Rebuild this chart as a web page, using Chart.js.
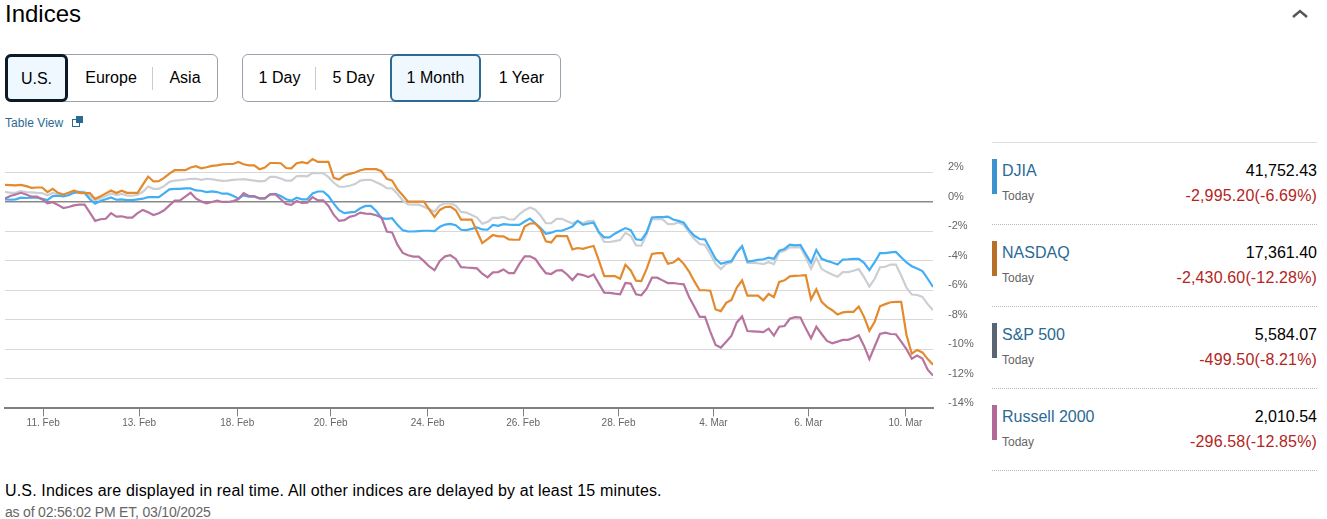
<!DOCTYPE html>
<html lang="en">
<head>
<meta charset="UTF-8">
<title>Indices</title>
<script src="https://cdn.jsdelivr.net/npm/chart.js"></script>
<style>
  html, body { margin: 0; padding: 0; background: #fff; }
  body { width: 1327px; height: 519px; position: relative; overflow: hidden; font-family: "Liberation Sans", Arial, sans-serif; color: #000; }
  .abs { position: absolute; white-space: nowrap; }
  .title { left: 5px; top: 0; font-size: 24px; line-height: 28px; }
  .group { position: absolute; top: 54px; height: 46px; border: 1px solid #9aa3ad; border-radius: 6px; }
  .btn { position: absolute; top: 54px; height: 48px; line-height: 48px; font-size: 16px; text-align: center; box-sizing: border-box; }
  .btn.on { background: #eff8ff; border-radius: 6px; line-height: 44px; }
  .sep { position: absolute; top: 67px; height: 23px; width: 1px; background: #c8ccd0; }
  .link { left: 5px; top: 116px; font-size: 12px; line-height: 15px; color: #2a6a94; letter-spacing: .05px; }
  #chartBox { position: absolute; left: 0; top: 121px; width: 985px; height: 309px; }
  .rule { position: absolute; left: 992px; width: 325px; height: 0; border-top: 1px dotted #b5bac0; }
  .bar { position: absolute; left: 992px; width: 5px; height: 35px; }
  .name { left: 1002px; font-size: 16px; line-height: 20px; color: #2a6a94; }
  .today { left: 1002px; font-size: 12px; line-height: 15px; color: #666; }
  .val { right: 10px; font-size: 16px; line-height: 20px; }
  .chg { right: 10px; font-size: 16px; line-height: 20px; color: #b3261e; letter-spacing: .15px; }
</style>
</head>
<body>
<div class="abs title">Indices</div>
<svg class="abs" style="left:1291px;top:8px" width="18" height="11" viewBox="0 0 18 11"><path d="M2 9 L9 3 L16 9" fill="none" stroke="#555" stroke-width="2.4"/></svg>

<div class="group" style="left:5px;width:211px"></div>
<div class="btn on" style="left:5px;width:63px;border:3px solid #0b1a26">U.S.</div>
<div class="btn" style="left:69px;width:84px">Europe</div>
<div class="sep" style="left:152px"></div>
<div class="btn" style="left:153px;width:64px">Asia</div>

<div class="group" style="left:242px;width:317px"></div>
<div class="btn" style="left:243px;width:73px">1 Day</div>
<div class="sep" style="left:315px"></div>
<div class="btn" style="left:316px;width:75px">5 Day</div>
<div class="btn on" style="left:390px;width:91px;border:2px solid #2a6a94;line-height:44px">1 Month</div>
<div class="btn" style="left:481px;width:81px">1 Year</div>

<div class="abs link">Table View</div>
<svg class="abs" style="left:72px;top:116px" width="12" height="11" viewBox="0 0 12 11"><rect x="0.5" y="3.5" width="7" height="7" fill="#fff" stroke="#2a6a94"/><rect x="4" y="0" width="7" height="7" fill="#2a6a94"/></svg>

<div id="chartBox"><canvas id="indexChart"></canvas></div>

<div class="rule" style="top:142px;border-top:1px solid #ddd"></div>
<div id="panel"></div>

<div class="abs" style="left:5px;top:481px;font-size:16px;line-height:20px;letter-spacing:.155px">U.S. Indices are displayed in real time. All other indices are delayed by at least 15 minutes.</div>
<div class="abs" style="left:5px;top:504px;font-size:14px;line-height:16px;color:#666;letter-spacing:-.19px">as of 02:56:02 PM ET, 03/10/2025</div>

<script>
// percent change, one reading every 5.3px or so along the x axis
const djia = [
  .16,.13,.16,.27,.25,.27,.27,.20,.11,.38,.40,.36,.43,.60,.65,.60,.16,-.13,.04,.16,.29,.13,.16,.11,.11,.16,.20,.31,.31,.31,
  .56,.83,.87,.87,.90,.90,.76,.74,.65,.69,.65,.54,.54,.40,.22,.43,.34,.34,.22,.22,.49,.52,.38,.16,.07,.27,.16,.16,.56,.69,.69,
  .38,-.13,-.58,-.78,-.72,-.69,-.45,-.29,-.29,-.63,-1.12,-1.16,-1.12,-1.57,-1.93,-2.02,-2.02,-1.99,-1.97,-1.97,-1.99,-1.70,-1.55,-1.50,-1.59,-1.90,-1.93,-1.84,-1.75,-1.88,
  -1.90,-1.57,-1.64,-1.52,-1.55,-1.57,-1.57,-1.34,-1.14,-1.46,-1.79,-2.17,-2.10,-1.97,-1.97,-1.84,-1.68,-1.30,-1.57,-1.48,-1.43,-2.08,-2.42,-2.42,-2.17,-1.97,-1.79,-1.93,-2.55,
  -2.60,-2.08,-1.07,-1.05,-1.05,-1.01,-1.21,-1.30,-1.43,-1.93,-2.31,-2.53,-2.55,-3.20,-3.87,-4.21,-4.10,-4.03,-3.43,-3.02,-4.05,-4.01,-3.94,-3.90,-3.79,-3.87,-3.32,-3.20,-2.91,-2.96,
  -2.93,-3.54,-4.14,-3.27,-3.87,-4.01,-4.12,-4.26,-3.92,-3.90,-3.87,-3.87,-4.14,-4.64,-4.10,-3.49,-3.49,-3.43,-3.40,-3.76,-4.12,-4.37,-4.52,-4.70,-5.22,-5.78
];
const nasdaq = [
  1.14,1.12,1.10,1.14,1.05,.94,.96,.96,.65,.87,.60,.49,.60,.74,.60,.58,.58,.18,.36,.56,.76,.58,.74,.60,.60,.60,1.16,1.70,1.37,1.39,
  1.61,1.90,2.13,2.13,2.13,2.31,2.40,2.26,2.33,2.42,2.46,2.53,2.55,2.55,2.69,2.53,2.46,2.46,2.20,2.31,2.62,2.62,2.60,2.28,2.26,2.60,2.67,2.60,2.89,2.69,2.69,
  2.69,1.61,1.50,1.77,1.88,1.97,2.13,2.20,2.20,2.20,2.06,1.55,1.43,.83,.43,0,0,0,0,-.52,-1.03,-.56,-.36,-.34,-.58,-1.21,-1.21,-1.21,-2.02,-2.80,
  -2.53,-2.26,-2.35,-2.35,-2.55,-2.58,-2.58,-1.68,-1.48,-1.48,-1.86,-2.69,-2.76,-2.31,-2.33,-2.33,-3.23,-3.14,-3.20,-3.09,-3.00,-3.99,-5.04,-5.04,-5.04,-5.22,-4.28,-4.66,-5.35,
  -5.38,-4.55,-3.54,-3.49,-3.49,-4.21,-4.12,-3.85,-4.21,-4.73,-5.40,-6.00,-6.00,-6.03,-7.30,-7.41,-6.85,-6.65,-5.82,-5.33,-6.36,-6.36,-6.36,-6.68,-6.25,-6.47,-5.44,-5.33,-5.06,-5.02,
  -5.00,-4.97,-6.61,-5.94,-6.79,-7.12,-7.35,-7.64,-7.50,-7.46,-7.46,-7.10,-7.80,-8.74,-8.13,-7.08,-6.94,-6.81,-6.79,-6.79,-9.03,-10.30,-10.04,-10.21,-10.66,-11.04
];
const sp500 = [
  .67,.60,.60,.72,.65,.63,.60,.58,.43,.60,.49,.45,.60,.74,.69,.67,.38,.09,.22,.38,.56,.45,.52,.43,.40,.47,.67,1.03,.87,.87,
  1.05,1.34,1.43,1.46,1.50,1.55,1.55,1.48,1.55,1.52,1.46,1.41,1.43,1.48,1.50,1.52,1.48,1.43,1.37,1.41,1.68,1.68,1.57,1.43,1.43,1.72,1.75,1.72,1.95,1.93,1.93,
  1.66,1.28,1.01,1.01,1.08,1.19,1.43,1.48,1.48,1.32,1.14,.92,.90,.54,.09,-.18,-.20,-.20,-.34,-.52,-.67,-.25,-.11,-.11,-.27,-.69,-.74,-.90,-1.08,-1.50,
  -1.37,-1.10,-1.10,-1.03,-1.19,-1.21,-.85,-.58,-.40,-.54,-.94,-1.46,-1.46,-1.16,-1.16,-1.32,-1.48,-1.30,-1.46,-1.32,-1.30,-2.11,-2.73,-2.73,-2.67,-2.60,-2.11,-2.31,-2.96,
  -2.98,-2.20,-1.19,-1.19,-1.19,-1.52,-1.52,-1.41,-1.57,-2.08,-2.53,-2.87,-2.93,-3.54,-4.21,-4.57,-4.21,-4.10,-3.43,-3.02,-4.14,-4.14,-4.17,-4.23,-4.10,-4.23,-3.43,-3.32,-3.09,-3.09,
  -3.09,-3.76,-4.55,-3.81,-4.55,-4.77,-4.93,-5.08,-4.77,-4.77,-4.68,-4.57,-5.11,-5.76,-5.22,-4.44,-4.41,-4.26,-4.26,-5.00,-5.82,-6.29,-6.32,-6.45,-6.94,-7.35
];
const russell = [
  .22,.38,.49,.60,.49,.34,.34,.16,-.11,-.04,-.22,-.43,-.36,-.25,-.20,-.20,-.74,-1.30,-1.19,-1.16,-.78,-1.01,-.99,-1.08,-1.08,-.78,-.56,-.72,-.90,-.78,
  -.58,-.25,.07,.09,.34,.60,.22,.02,-.11,-.02,.07,-.02,-.02,.04,.16,.58,.38,.38,.22,.22,.49,.49,.16,-.16,-.22,.04,-.09,-.07,.31,.09,.09,
  -.29,-.90,-1.30,-1.25,-1.03,-.94,-.74,-.81,-.83,-.92,-1.08,-2.02,-2.08,-2.91,-3.47,-3.63,-3.72,-3.72,-4.03,-4.39,-4.64,-4.01,-3.70,-3.63,-3.88,-4.43,-4.46,-4.48,-4.52,-4.88,
  -5.13,-4.79,-4.77,-4.59,-4.84,-4.84,-4.21,-3.70,-3.70,-3.88,-4.39,-4.84,-4.90,-4.66,-4.64,-4.93,-5.31,-4.90,-4.97,-5.11,-4.93,-5.55,-6.16,-6.18,-6.23,-6.27,-5.51,-5.55,-6.27,
  -6.34,-5.89,-5.15,-5.15,-5.33,-5.51,-5.51,-5.56,-5.60,-6.45,-7.12,-7.80,-7.80,-8.80,-9.70,-9.88,-9.48,-9.07,-8.18,-7.77,-8.76,-8.78,-8.80,-8.83,-8.60,-9.07,-8.47,-8.42,-7.93,-7.82,
  -7.84,-8.58,-9.25,-8.47,-8.96,-9.43,-9.59,-9.48,-9.36,-9.36,-9.21,-9.05,-9.77,-10.66,-9.81,-8.96,-8.87,-8.96,-8.98,-9.48,-9.99,-10.64,-10.42,-10.62,-11.38,-11.78
];

const dateLabels = ['11. Feb', '13. Feb', '18. Feb', '20. Feb', '24. Feb', '26. Feb', '28. Feb', '4. Mar', '6. Mar', '10. Mar'];
const datePositions = [7.2, 25.3, 43.8, 61.4, 79.7, 97.7, 115.7, 133.6, 151.5, 169.8];
const percentTicks = [2, 0, -2, -4, -6, -8, -10, -12, -14];

const names = ['DJIA', 'NASDAQ', 'S&P 500', 'Russell 2000'];
const lastValues = ['41,752.43', '17,361.40', '5,584.07', '2,010.54'];
const changes = ['-2,995.20(-6.69%)', '-2,430.60(-12.28%)', '-499.50(-8.21%)', '-296.58(-12.85%)'];
const barColors = ['#3b93d0', '#b86f27', '#5a6472', '#b16a97'];

// right hand panel
const panel = document.getElementById('panel');
names.forEach((name, i) => {
    const top = 142 + i * 82;
    panel.innerHTML +=
        `<div class="bar" style="top:${top + 17}px;background:${barColors[i]}"></div>` +
        `<div class="abs name" style="top:${top + 19}px">${name.replace('&', '&amp;')}</div>` +
        `<div class="abs today" style="top:${top + 47}px">Today</div>` +
        `<div class="abs val" style="top:${top + 19}px">${lastValues[i]}</div>` +
        `<div class="abs chg" style="top:${top + 44}px">${changes[i]}</div>` +
        `<div class="rule" style="top:${top + 82}px"></div>`;
});

function toPoints(values) {
    return values.map((v, i) => ({ x: i, y: v }));
}

new Chart(document.getElementById('indexChart'), {
    type: 'line',
    data: {
        datasets: [
            { label: 'DJIA', data: toPoints(djia), borderColor: '#42aef5', order: 3 },
            { label: 'NASDAQ', data: toPoints(nasdaq), borderColor: '#e38a2e', order: 2 },
            { label: 'S&P 500', data: toPoints(sp500), borderColor: '#cbced2', order: 4 },
            { label: 'Russell 2000', data: toPoints(russell), borderColor: '#b7749f', order: 1 }
        ]
    },
    options: {
        responsive: true,
        maintainAspectRatio: false,
        animation: false,
        parsing: false,
        layout: { padding: { left: 5, top: 0, right: 0, bottom: 0 } },
        elements: {
            point: { radius: 0 },
            line: { borderWidth: 2.2, tension: 0 }
        },
        plugins: { legend: { display: false }, tooltip: { enabled: false } },
        scales: {
            x: {
                type: 'linear',
                min: 0,
                max: 175,
                afterBuildTicks: (scale) => { scale.ticks = datePositions.map(v => ({ value: v })); },
                afterFit: (scale) => { scale.height = 21; },
                border: { color: '#808080', width: 2 },
                grid: { drawOnChartArea: false, tickLength: 8, tickColor: '#808080' },
                ticks: {
                    autoSkip: false,
                    maxRotation: 0,
                    padding: 1,
                    color: '#666',
                    font: { family: '"Liberation Sans", Arial, sans-serif', size: 10 },
                    callback: (value) => dateLabels[datePositions.indexOf(value)]
                }
            },
            y: {
                position: 'right',
                min: -14,
                max: 4,
                afterBuildTicks: (scale) => { scale.ticks = percentTicks.map(v => ({ value: v })); },
                afterFit: (scale) => { scale.width = 52; },
                border: { display: false },
                grid: {
                    drawTicks: false,
                    color: (ctx) => (ctx.tick && ctx.tick.value === 0 ? '#8a8a8a' : '#d8d8d8'),
                    lineWidth: (ctx) => {
                        if (!ctx.tick || ctx.tick.value === -14) return 0;
                        return ctx.tick.value === 0 ? 1.5 : 1;
                    }
                },
                ticks: {
                    padding: 15,
                    labelOffset: -5,
                    color: '#666',
                    font: { family: '"Liberation Sans", Arial, sans-serif', size: 11 },
                    callback: (value) => value + '%'
                }
            }
        }
    }
});
</script>
</body>
</html>
